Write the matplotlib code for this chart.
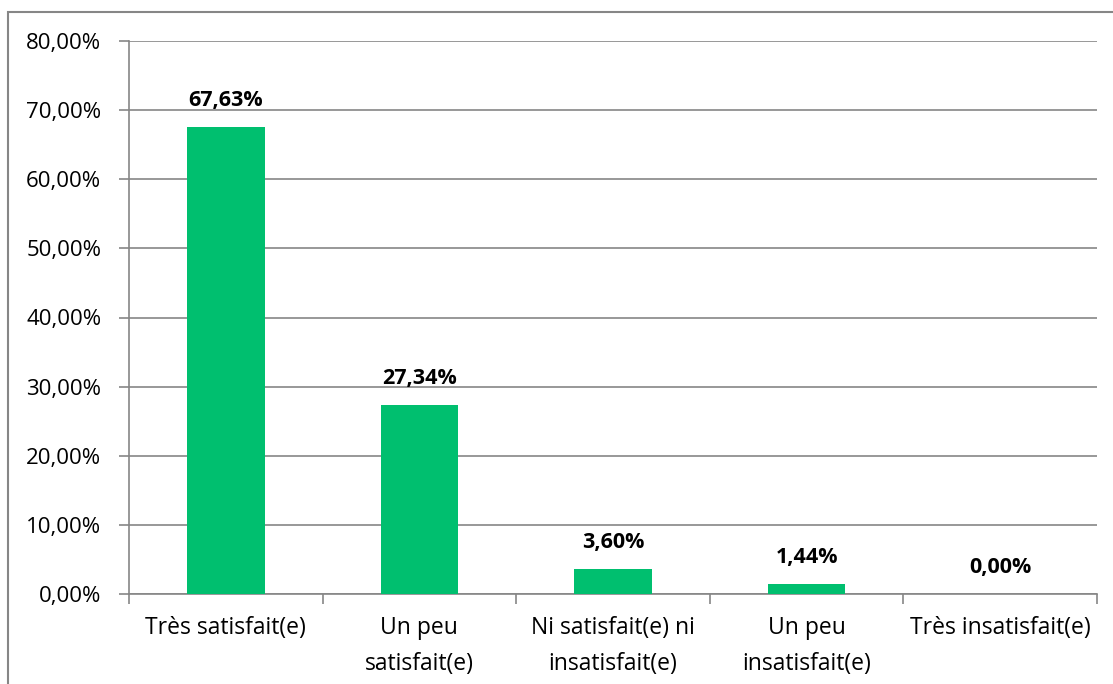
import matplotlib.pyplot as plt
from matplotlib.patches import Rectangle

categories = ["Très satisfait(e)", "Un peu\nsatisfait(e)", "Ni satisfait(e) ni\ninsatisfait(e)",
              "Un peu\ninsatisfait(e)", "Très insatisfait(e)"]
values = [67.63, 27.34, 3.60, 1.44, 0.00]
yticks = [0, 10, 20, 30, 40, 50, 60, 70, 80]

plt.rcParams['font.family'] = ['Open Sans', 'DejaVu Sans']

fig = plt.figure(figsize=(11.13, 6.84), dpi=100)
ax = fig.add_axes([129 / 1113, 1 - 594 / 684, (1097 - 129) / 1113, (594 - 41) / 684])

grey = "#868686"
x = list(range(len(categories)))
ax.bar(x, values, width=0.4, color="#00BF6F", zorder=3)

for xi, v in zip(x, values):
    ax.annotate(f"{v:.2f}%".replace(".", ","), (xi, v), xytext=(0, 19), textcoords="offset points",
                ha="center", va="center", fontsize=15.5, fontweight="bold", color="black")

ax.set_xlim(-0.5, len(categories) - 0.5)
ax.set_ylim(0, 80)
ax.set_yticks(yticks)
ax.set_yticklabels([f"{t:.2f}%".replace(".", ",") for t in yticks], fontsize=16)
ax.yaxis.grid(True, color=grey, linewidth=1.2, zorder=0)

# category labels at centers, tick marks at boundaries
ax.set_xticks(x)
ax.set_xticklabels(categories, fontsize=16.5, linespacing=1.65, va="top")
ax.tick_params(axis="x", length=0, pad=16)
ax.set_xticks([i - 0.5 for i in range(len(categories) + 1)], minor=True)
ax.tick_params(axis="x", which="minor", length=7, color=grey, width=1.2)
ax.tick_params(axis="y", length=7, color=grey, width=1.2, pad=13)

for side in ["top", "right"]:
    ax.spines[side].set_visible(False)
for side in ["left", "bottom"]:
    ax.spines[side].set_color(grey)
    ax.spines[side].set_linewidth(1.2)

# chart area border
fig.patches.append(Rectangle((8 / 1113, -0.05), 1.1, 1 - 12 / 684 + 0.05, transform=fig.transFigure,
                             fill=False, edgecolor=grey, linewidth=1.5))

fig.savefig("out.png", dpi=100)
